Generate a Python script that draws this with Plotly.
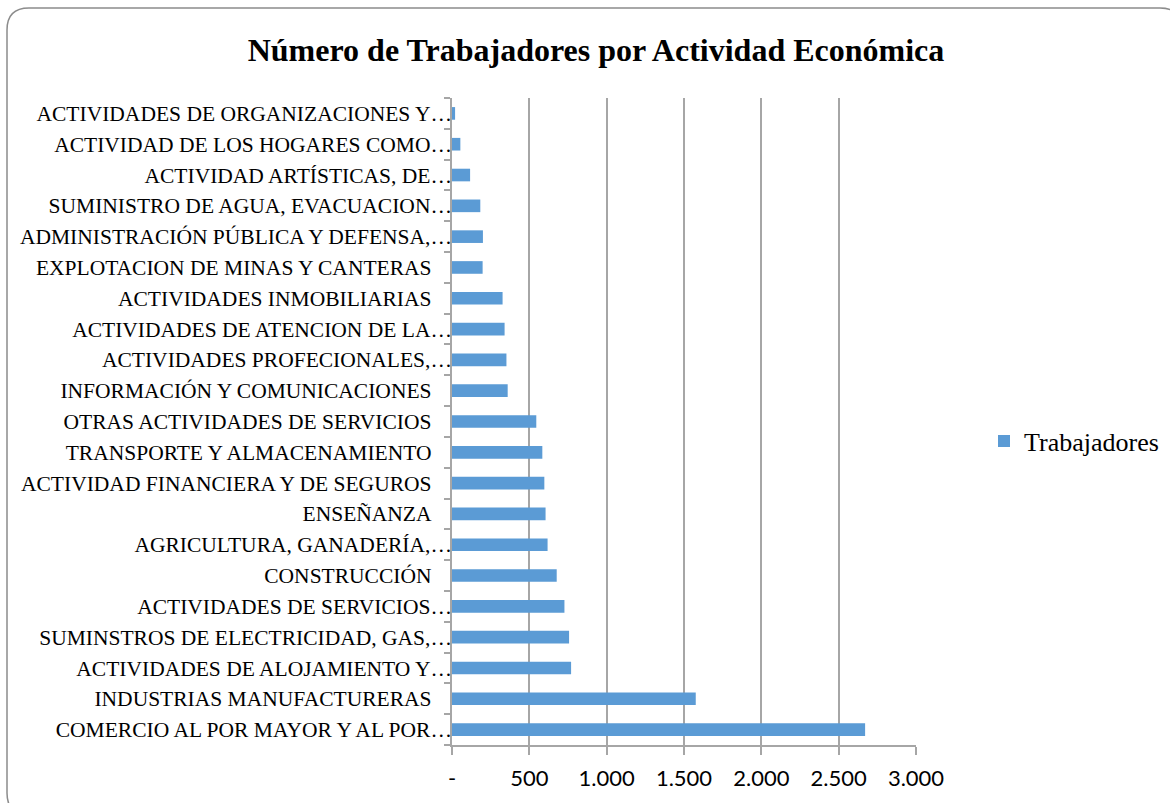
import plotly.graph_objects as go

categories = [
    "COMERCIO AL POR MAYOR Y AL POR…",
    "INDUSTRIAS MANUFACTURERAS",
    "ACTIVIDADES DE ALOJAMIENTO Y…",
    "SUMINSTROS DE ELECTRICIDAD, GAS,…",
    "ACTIVIDADES DE SERVICIOS…",
    "CONSTRUCCIÓN",
    "AGRICULTURA, GANADERÍA,…",
    "ENSEÑANZA",
    "ACTIVIDAD FINANCIERA Y DE SEGUROS",
    "TRANSPORTE Y ALMACENAMIENTO",
    "OTRAS ACTIVIDADES DE SERVICIOS",
    "INFORMACIÓN Y COMUNICACIONES",
    "ACTIVIDADES PROFECIONALES,…",
    "ACTIVIDADES DE ATENCION DE LA…",
    "ACTIVIDADES INMOBILIARIAS",
    "EXPLOTACION DE MINAS Y CANTERAS",
    "ADMINISTRACIÓN PÚBLICA Y DEFENSA,…",
    "SUMINISTRO DE AGUA, EVACUACION…",
    "ACTIVIDAD ARTÍSTICAS, DE…",
    "ACTIVIDAD DE LOS HOGARES COMO…",
    "ACTIVIDADES DE ORGANIZACIONES Y…",
]
trabajadores = [2671, 1576, 770, 757, 727, 677, 618, 605, 597, 584, 545,
                360, 352, 340, 327, 198, 200, 183, 117, 54, 20]

x_tickvals = [0, 500, 1000, 1500, 2000, 2500, 3000]
x_ticktext = ["-", "500", "1.000", "1.500", "2.000", "2.500", "3.000"]

# truncated labels run up to the axis; full labels keep a small gap
pad = "\u00a0\u00a0\u00a0\u2009"
y_ticktext = [c if c.endswith("…") else c + pad for c in categories]

W, H = 1170, 803
L, R, T, B = 452, 916, 98, 745

def px2paper(px, py):
    return (px - L) / (R - L), (B - py) / (B - T)

fig = go.Figure()
fig.add_trace(go.Bar(
    y=categories, x=trabajadores, orientation="h", name="Trabajadores",
    marker=dict(color="#5B9BD5", line=dict(width=0)),
    showlegend=True,
))

# rounded border
x0, y0, x1, y1, r = 7, 8, 1182, 815, 22
def P(px, py):
    a, b = px2paper(px, py)
    return f"{a:.5f},{b:.5f}"
path = (f"M {P(x0 + r, y0)} L {P(x1 - r, y0)} Q {P(x1, y0)} {P(x1, y0 + r)} "
        f"L {P(x1, y1 - r)} Q {P(x1, y1)} {P(x1 - r, y1)} "
        f"L {P(x0 + r, y1)} Q {P(x0, y1)} {P(x0, y1 - r)} "
        f"L {P(x0, y0 + r)} Q {P(x0, y0)} {P(x0 + r, y0)} Z")
fig.add_shape(type="path", path=path, xref="paper", yref="paper",
              line=dict(color="#8c8c8c", width=1.5), layer="below")

lx, ly = px2paper(984, 441)

fig.update_layout(
    width=W, height=H,
    margin=dict(l=L, r=W - R, t=T, b=H - B, autoexpand=False),
    paper_bgcolor="white", plot_bgcolor="white",
    bargap=0.59,
    title=dict(text="<b>Número de Trabajadores por Actividad Económica</b>",
               x=596 / W, xanchor="center", y=1 - 50 / H, yanchor="middle",
               font=dict(family="Liberation Serif", size=32, color="black")),
    legend=dict(x=lx, y=ly, xanchor="left", yanchor="middle",
                font=dict(family="Liberation Serif", size=26, color="black"),
                bgcolor="rgba(0,0,0,0)"),
    xaxis=dict(range=[0, 3000], tickvals=x_tickvals, ticktext=x_ticktext,
               showgrid=True, gridcolor="#a6a6a6", gridwidth=1.5,
               showline=True, linecolor="#a6a6a6", linewidth=1.5,
               ticks="outside", ticklen=8, tickcolor="#a6a6a6", tickwidth=1.5,
               ticklabelstandoff=5, zeroline=False,
               tickfont=dict(family="Lato", size=22, color="black"),
               fixedrange=True),
    yaxis=dict(type="category", showgrid=False, showline=True,
               linecolor="#a6a6a6", linewidth=1.5,
               ticks="outside", ticklen=6, tickcolor="#a6a6a6", tickwidth=1.5,
               tickson="boundaries", ticklabelstandoff=-6,
               tickvals=categories, ticktext=y_ticktext,
               tickfont=dict(family="Liberation Serif", size=21.5, color="black"),
               range=[-0.5, len(categories) - 0.5], fixedrange=True),
)

fig.write_html("out.html", config={"displayModeBar": False},
               post_script="document.body.style.margin='0';document.body.style.overflow='hidden';")
